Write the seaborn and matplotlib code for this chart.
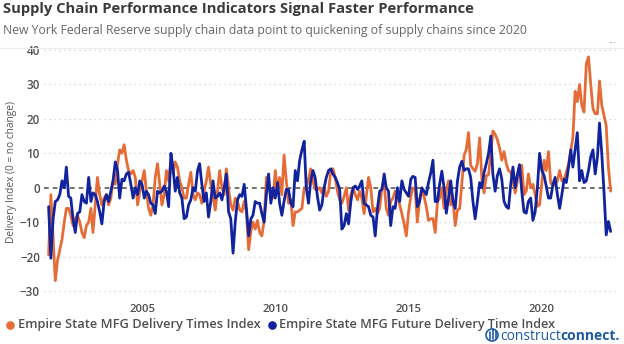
import matplotlib
matplotlib.use("Agg")
import matplotlib.pyplot as plt
import matplotlib.patches as mpatches
from matplotlib.lines import Line2D
import numpy as np
import pandas as pd
import seaborn as sns

# ---- data: monthly index readings, July 2001 onward ----
start_month = "2001-07-01"

# Empire State MFG Delivery Times Index (one row per calendar year)
delivery_times = [
    -19.5, -2, -15, -27, -21, -18,                                # 2001 (Jul-Dec)
    -15, -10, -6, -6, -8, -11, -9, -8, -10, -13, -14.5, -11,      # 2002
    -10, -6, -13, -5, 3, -2, -5, -3, -2, -5, -3, 2,               # 2003
    1, 7, 11, 10, 12.5, 8, 5, 4, 5, 3, -5, -1,                    # 2004
    2, 5, -1, -6, -8, -5, 3, 7, 1, -5, -2, 5,                     # 2005
    2, 8, 4, 7.5, 6, 2, 0, -3, -3, 1, 4.5, -2,                    # 2006
    -3.5, -1.5, -2, -4.5, -1, 2, 6, 1, -2.5, -6.5, -1, 5,         # 2007
    0, -2, 5.5, 0, -5, -6.5, -3, -4, -6.5, -7, -4, -7,            # 2008
    -18, -12.5, -10, -12, -9.5, -13, -14, -9.5, 3, 2, -3, -3,     # 2009
    5, -1, 3, -2, 9.5, 2, -4.5, -3.5, -11, -7, -7, -6.5,          # 2010
    -6, 0, 0, 2.5, 5.5, 2, -0.5, -0.5, 0, -1.5, 0, -2.5,          # 2011
    -1, 5, 5.5, 3, -1, -3.5, -4.5, -2.5, 0, -6.5, -2, 0,          # 2012
    -2, -3.5, -1, -3, -7.5, -2.5, 3, 0, -7, -6, -7.5, -6,         # 2013
    0, 1.5, -6, -8, -4, -3, -1, -2, -5, -7.5, -10.5, -14,         # 2014
    -7, -2.5, 0, -0.5, -10, -3.5, -1, -2.5, -5.5, -9.5, -9, -9,   # 2015
    -13, -4, -3, 0, -6, -1, 2, -5, -3.5, -11, -6.5, -6,           # 2016
    1.5, 9.5, 11, 16, 6.5, 5.5, 4.8, 7, 14.5, 2.5, -1.5, 3.5,     # 2017
    3.8, 10, 16.5, 15.5, 14, 11.5, 8, 10.5, 7, 5, 4.5, 2,         # 2018
    -1.5, 2, 6, 6.5, -2, -1, 4, 0, 1, -2, -5.4, -5,               # 2019
    1.5, 8, 5, 10.5, 1.5, 0.5, 1, 2, 5, 2, 2.5, 4.5,              # 2020
    7, 11, 14.5, 28, 25, 30, 24, 22, 36, 38, 30, 23,              # 2021
    21.5, 21.5, 31, 24, 21, 18, 6, -1,                            # 2022 (Jan-Aug)
]

# Empire State MFG Future Delivery Time Index
future_delivery = [
    -5.5, -20.5, -9, -4, -3.5, -2,                                # 2001 (Jul-Dec)
    2, 0, 6, -2.5, -3, -9, -13, -7.5, -7, -2, -4, -4.5,           # 2002
    3, -4, -1.5, -2, -4, -7, -10.5, -4, -2, -4, -1, 2,            # 2003
    7.5, 5, -3, 2.5, 2, 4, 4.5, 1, -3, 0, -2, 2,                  # 2004
    1, -3, -1, -2, -4.5, -5, -7.5, -1, -1.5, -1, 0.5, -1,         # 2005
    -5.5, 10, 6, -1, 3, -1.5, -3, -9, -8.5, -5, -3.5, 0,          # 2006
    -1, 5, 7, 1, -4, -1.5, -8.5, -4, 2, -3, -2.5, -1.5,           # 2007
    -3.5, 0, 4, -7, -9, -19, -10, -3.5, -2, -2.5, 1, -6,          # 2008
    -14, -9, -8, -4, -4.5, -4.5, -7.5, -10, -2, 4, -4.5, 0,       # 2009
    -3, 1.5, -4.5, -8, -4, -0.5, -0.5, -4.5, -5.5, 5, 2, 8,       # 2010
    11, 13.5, 0, -4.5, 2, 5, 3, -2.5, -6.5, -5, 0, 3,             # 2011
    5, 5.5, 4, 3, 1.5, -0.5, -12, -11, -7.5, -10.5, -4, 0,        # 2012
    0.5, -0.5, 0.5, 2, -4.5, -5, -5.5, -8, -8.5, -14, -6, -1,     # 2013
    -0.5, 4, 0, -1, -11, -5.5, -6, 0, -4, 2, -0.5, -1.5,          # 2014
    -2.5, 2.5, 3.3, 3, -5.5, -4, 0, -1, -2, 1.5, 4.3, 8,          # 2015
    -4, -4, 1, 4.8, 0, -7.4, -3, 2, -4, -6, 2, 6,                 # 2016
    7.7, 5, 5.5, 5.5, 3, -4, -9, -4, 1.5, 0, 4.5, 7,              # 2017
    10, 15, 4, -1, 3.5, 5.5, 2.5, -4, -5.5, -6, 1, 6,             # 2018
    0, 4, 6.7, -1, -7, -7.4, -4, -3, -9.5, -7, 0, 10,             # 2019
    5, 3.5, 0.5, -3, -3, 1, 3, -2, -6, -2, 2.5, 1.5,              # 2020
    6, 11, 6, 11, 16, 2, 5, 1.5, 2, 5, 9, 11,                     # 2021
    4, 9, 18.8, 10, -1, -13.7, -9.8, -12.7,                       # 2022 (Jan-Aug)
]

series_names = ["Empire State MFG Delivery Times Index",
                "Empire State MFG Future Delivery Time Index"]
series_colors = ["#E66C37", "#12239E"]
y_ticks = [-30, -20, -10, 0, 10, 20, 30, 40]
x_tick_years = [2005, 2010, 2015, 2020]

title = "Supply Chain Performance Indicators Signal Faster Performance"
subtitle = ("New York Federal Reserve supply chain data point to quickening "
            "of supply chains since 2020")
y_label = "Delivery Index (0 = no change)"

# ---- tidy frame ----
dates = pd.date_range(start_month, periods=len(delivery_times), freq="MS")
wide = pd.DataFrame({"date": dates,
                     series_names[0]: delivery_times,
                     series_names[1]: future_delivery})
df = wide.melt(id_vars="date", var_name="series", value_name="value")

# ---- figure ----
sns.set_theme(style="white")
plt.rcParams["font.family"] = ["Open Sans", "DejaVu Sans"]

W, H = 624, 344
fig = plt.figure(figsize=(W / 100, H / 100), dpi=100)
fig.patch.set_facecolor("white")


def fx(px):
    return px / W


def fy(py):
    return 1 - py / H


ax_top, ax_bottom = 46.6, 297.9
ax = fig.add_axes([fx(44), fy(ax_bottom), fx(572), (ax_bottom - ax_top) / H])

# reference lines
for v in y_ticks:
    if v == 0:
        ax.axhline(0, color="#666666", lw=1.3, ls=(0, (2.6, 2.2)), zorder=1)
    else:
        ax.axhline(v, color="#cfcfcf", lw=0.9, ls=(0, (1, 3)), zorder=0)

sns.lineplot(data=df, x="date", y="value", hue="series",
             hue_order=series_names, palette=series_colors,
             linewidth=2.0, legend=False, ax=ax, zorder=3)

ax.set_ylim(-32, 41)
d0, d1 = dates[0], dates[-1]
ax.set_xlim(d0 - pd.Timedelta(days=63), d1 + pd.Timedelta(days=73))
ax.set_yticks(y_ticks)
ax.set_xticks([pd.Timestamp(f"{y}-01-01") for y in x_tick_years])
ax.set_xticklabels([str(y) for y in x_tick_years])
ax.set_xlabel("")
ax.set_ylabel("")
for s in ax.spines.values():
    s.set_visible(False)
ax.tick_params(axis="y", length=0, pad=3, labelsize=8.4, labelcolor="#505050")
ax.tick_params(axis="x", length=0, pad=4.2, labelsize=8.2, labelcolor="#505050")
for lab in ax.get_yticklabels() + ax.get_xticklabels():
    lab.set_fontweight("semibold")

fig.canvas.draw()
renderer = fig.canvas.get_renderer()


def fit(t, size_px, along="width"):
    bb = t.get_window_extent(renderer)
    cur = bb.width if along == "width" else bb.height
    t.set_fontsize(t.get_fontsize() * size_px / cur)
    return t


# title block
t_title = fig.text(fx(3), fy(2), title, ha="left", va="top", fontsize=11,
                   fontweight="bold", color="#3b3b3b")
fit(t_title, 470)
t_sub = fig.text(fx(3), fy(24), subtitle, ha="left", va="top", fontsize=9,
                 color="#666666")
fit(t_sub, 530)
fig.add_artist(Line2D([0, 1], [fy(47.5), fy(47.5)], color="#ececec", lw=0.9,
                      transform=fig.transFigure))
fig.text(fx(616), fy(44), "···", ha="right", va="center", fontsize=7,
         color="#9a9a9a")

# y axis title
t_y = fig.text(fx(12), fy(172), y_label, rotation=90, ha="center",
               va="center", fontsize=7.5, color="#555555")
fit(t_y, 142, along="height")

# legend
leg_y = 324.5
leg_items = [(10, 18, 244), (272, 279, 277)]
for (dot_x, txt_x, txt_w), name, col in zip(leg_items, series_names, series_colors):
    fig.add_artist(Line2D([fx(dot_x)], [fy(leg_y)], marker="o", ms=5.2,
                          color=col, lw=0, transform=fig.transFigure))
    t = fig.text(fx(txt_x), fy(leg_y), name, ha="left", va="center",
                 fontsize=9, fontweight="semibold", color="#505050")
    fit(t, txt_w)

# brand mark
brand = "#1f5aa6"
fig.add_artist(mpatches.Ellipse((fx(492), fy(335)), 12 / W, 12 / H,
                                fill=False, ec=brand, lw=1.2,
                                transform=fig.transFigure))
for bx, top in [(490, 332), (493, 329), (496, 331)]:
    fig.add_artist(Line2D([fx(bx), fx(bx)], [fy(339), fy(top)], color=brand,
                          lw=1.2, transform=fig.transFigure))

t_c1 = fig.text(fx(500), fy(340.5), "construct", ha="left", va="baseline",
                fontsize=10, color=brand)
t_c2 = fig.text(fx(560), fy(340.5), "connect.", ha="left", va="baseline",
                fontsize=10, fontweight="bold", color=brand)
w1 = t_c1.get_window_extent(renderer).width
w2 = t_c2.get_window_extent(renderer).width
scale = 120.0 / (w1 + w2)
for t in (t_c1, t_c2):
    t.set_fontsize(t.get_fontsize() * scale)
t_c2.set_x(fx(500 + w1 * scale))

fig.savefig("out.png", dpi=100, facecolor="white")
